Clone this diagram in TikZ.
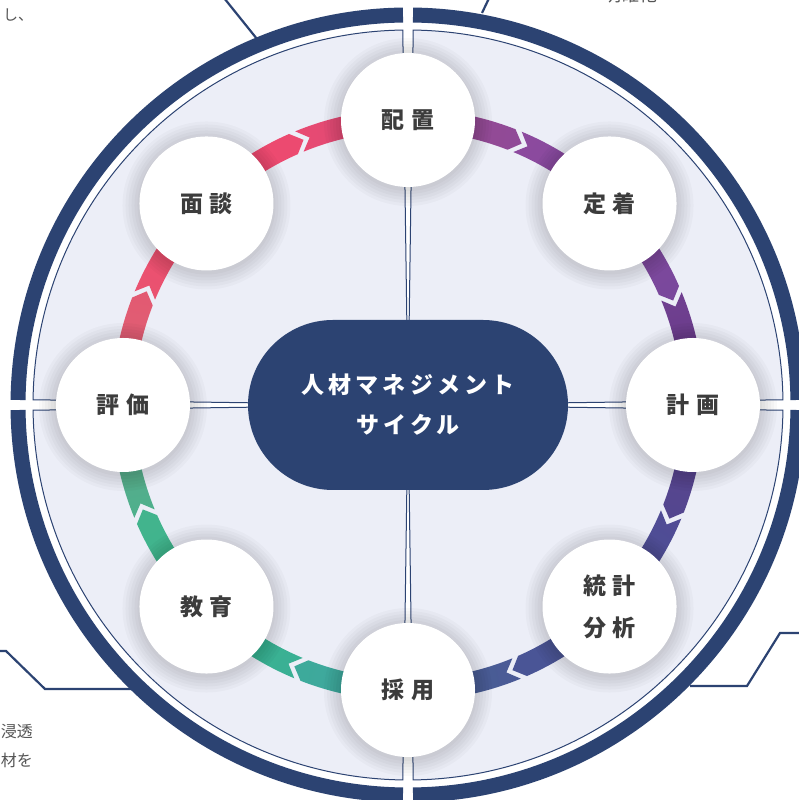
\documentclass[tikz,border=0pt]{standalone}
\usepackage{fontspec}
\setmainfont{Noto Sans CJK JP}
\newfontfamily\jpl{Noto Sans CJK JP}[LetterSpace=30]
\newfontfamily\jpc{Noto Sans CJK JP}[LetterSpace=18]
\definecolor{navy}{HTML}{2C4372}
\definecolor{bgfill}{HTML}{ECEEF7}
\definecolor{txtgray}{HTML}{3C3C3C}
\definecolor{sidegray}{HTML}{555555}
% band colours
\definecolor{a1}{HTML}{EF4870}\definecolor{b1}{HTML}{EC4A70}\definecolor{c1}{HTML}{E84A72}\definecolor{d1}{HTML}{D84A78}
\definecolor{a2}{HTML}{9A4A92}\definecolor{b2}{HTML}{904A97}\definecolor{c2}{HTML}{8C4A9E}\definecolor{d2}{HTML}{844AA0}
\definecolor{a3}{HTML}{824A9E}\definecolor{b3}{HTML}{7A489C}\definecolor{c3}{HTML}{703F90}\definecolor{d3}{HTML}{633C86}
\definecolor{a4}{HTML}{5C4490}\definecolor{b4}{HTML}{54468F}\definecolor{c4}{HTML}{504C95}\definecolor{d4}{HTML}{4A5096}
\definecolor{a5}{HTML}{4C5296}\definecolor{b5}{HTML}{4A5596}\definecolor{c5}{HTML}{4A5A96}\definecolor{d5}{HTML}{476293}
\definecolor{a6}{HTML}{42A39F}\definecolor{b6}{HTML}{3DAA9B}\definecolor{c6}{HTML}{3AB094}\definecolor{d6}{HTML}{38B48F}
\definecolor{a7}{HTML}{3DB68E}\definecolor{b7}{HTML}{42B48D}\definecolor{c7}{HTML}{4EB08C}\definecolor{d7}{HTML}{62A68A}
\definecolor{a8}{HTML}{DE6476}\definecolor{b8}{HTML}{E25A72}\definecolor{c8}{HTML}{EA5270}\definecolor{d8}{HTML}{EE4A6E}
\tikzset{
  cyclenode/.style={circle, fill=white, minimum size=134pt, inner sep=0pt, align=center,
    text=txtgray, font=\jpl\bfseries\fontsize{23}{42}\selectfont},
  pillnode/.style={rectangle, rounded corners=85pt, fill=navy, minimum width=320pt,
    minimum height=170pt, inner sep=0pt, align=center, text=white,
    font=\jpc\bfseries\fontsize{23}{40}\selectfont},
  sidetext/.style={inner sep=0pt, text=sidegray},
  leader/.style={navy, line width=2.2pt, line join=miter}
}
\begin{document}
\begin{tikzpicture}[x=1pt,y=1pt]
\useasboundingbox (0,0) rectangle (799,800);
\fill[white] (0,0) rectangle (799,800);
\coordinate (C) at (408,395);
\begin{scope}[shift={(408,395)}]
  % quadrants and outer ring
  \foreach \k in {0,1,2,3}{
    \pgfmathsetmacro\qa{90*\k+0.8}
    \pgfmathsetmacro\qb{90*\k+89.2}
    \pgfmathsetmacro\ra{90*\k+0.74}
    \pgfmathsetmacro\rb{90*\k+89.26}
    \filldraw[fill=bgfill, draw=navy, line width=1pt] (0,0) -- (\qa:375) arc[start angle=\qa, end angle=\qb, radius=375] -- cycle;
    \draw[navy, line width=15pt] (\ra:390) arc[start angle=\ra, end angle=\rb, radius=390];
  }
  % arrow band
  \foreach \S/\ca/\cb/\cc/\cd in {135/a1/b1/c1/d1, 90/a2/b2/c2/d2, 45/a3/b3/c3/d3, 0/a4/b4/c4/d4,
      -45/a5/b5/c5/d5, -90/a6/b6/c6/d6, -135/a7/b7/c7/d7, 180/a8/b8/c8/d8}{
    \pgfmathsetmacro\J{\S-23.5}
    \pgfmathsetmacro\T{\S-45}
    \pgfmathsetmacro\Js{\J+2.2}
    \pgfmathsetmacro\Jg{\J-1.3}
    \pgfmathsetmacro\Jsg{\J+0.9}
    \pgfmathsetmacro\ma{(\S+\J)/2+180}
    \pgfmathsetmacro\mb{(\J+\T)/2+180}
    \shade[bottom color=\ca, top color=\cb, shading angle=\ma]
      (\S:296) arc[start angle=\S, end angle=\Js, radius=296] -- (\J:285) -- (\Js:274)
      arc[start angle=\Js, end angle=\S, radius=274] -- cycle;
    \shade[bottom color=\cc, top color=\cd, shading angle=\mb]
      (\Jsg:296) arc[start angle=\Jsg, end angle=\T, radius=296] -- (\T:274)
      arc[start angle=\T, end angle=\Jsg, radius=274] -- (\Jg:285) -- cycle;
  }
  % node shadows
  \foreach \a in {90,45,0,-45,-90,-135,180,135}{
    \foreach \r in {84,81,...,68}{
      \fill[black, opacity=0.022] ([yshift=-2pt]\a:285) circle[radius=\r];
    }
  }
  % nodes
  \node[cyclenode] (haichi) at (90:285) {配置};
  \node[cyclenode] (teichaku) at (45:285) {定着};
  \node[cyclenode] (keikaku) at (0:285) {計画};
  \node[cyclenode] (toukei) at (-45:285) {統計\\分析};
  \node[cyclenode] (saiyou) at (-90:285) {採用};
  \node[cyclenode] (kyouiku) at (-135:285) {教育};
  \node[cyclenode] (hyouka) at (180:285) {評価};
  \node[cyclenode] (mendan) at (135:285) {面談};
  \node[pillnode] (center) at (0,0) {人材マネジメント\\サイクル};
\end{scope}
% leader lines
\coordinate (tla) at (216,812);
\coordinate (tlb) at (257,761);
\coordinate (tra) at (492,808);
\coordinate (trb) at (482,787);
\coordinate (bla) at (-5,149);
\coordinate (blb) at (6,149);
\coordinate (blc) at (45,111);
\coordinate (bld) at (131,111);
\coordinate (bra) at (690,114);
\coordinate (brb) at (747,114);
\coordinate (brc) at (780,167);
\coordinate (brd) at (805,167);
\draw[leader] (tla) -- (tlb);
\draw[leader] (tra) -- (trb);
\draw[leader] (bla) -- (blb) -- (blc) -- (bld);
\draw[leader] (bra) -- (brb) -- (brc) -- (brd);
% side texts
\node[sidetext, anchor=west, font=\fontsize{15}{18}\selectfont] (t1) at (3,785) {し、};
\node[sidetext, font=\fontsize{18}{20}\selectfont] (t2) at (630,805) {明確化};
\node[sidetext, anchor=east, font=\fontsize{16}{20}\selectfont] (t3) at (33,68) {浸透};
\node[sidetext, anchor=east, font=\fontsize{16}{20}\selectfont] (t4) at (33,40) {材を};
\end{tikzpicture}
\end{document}
